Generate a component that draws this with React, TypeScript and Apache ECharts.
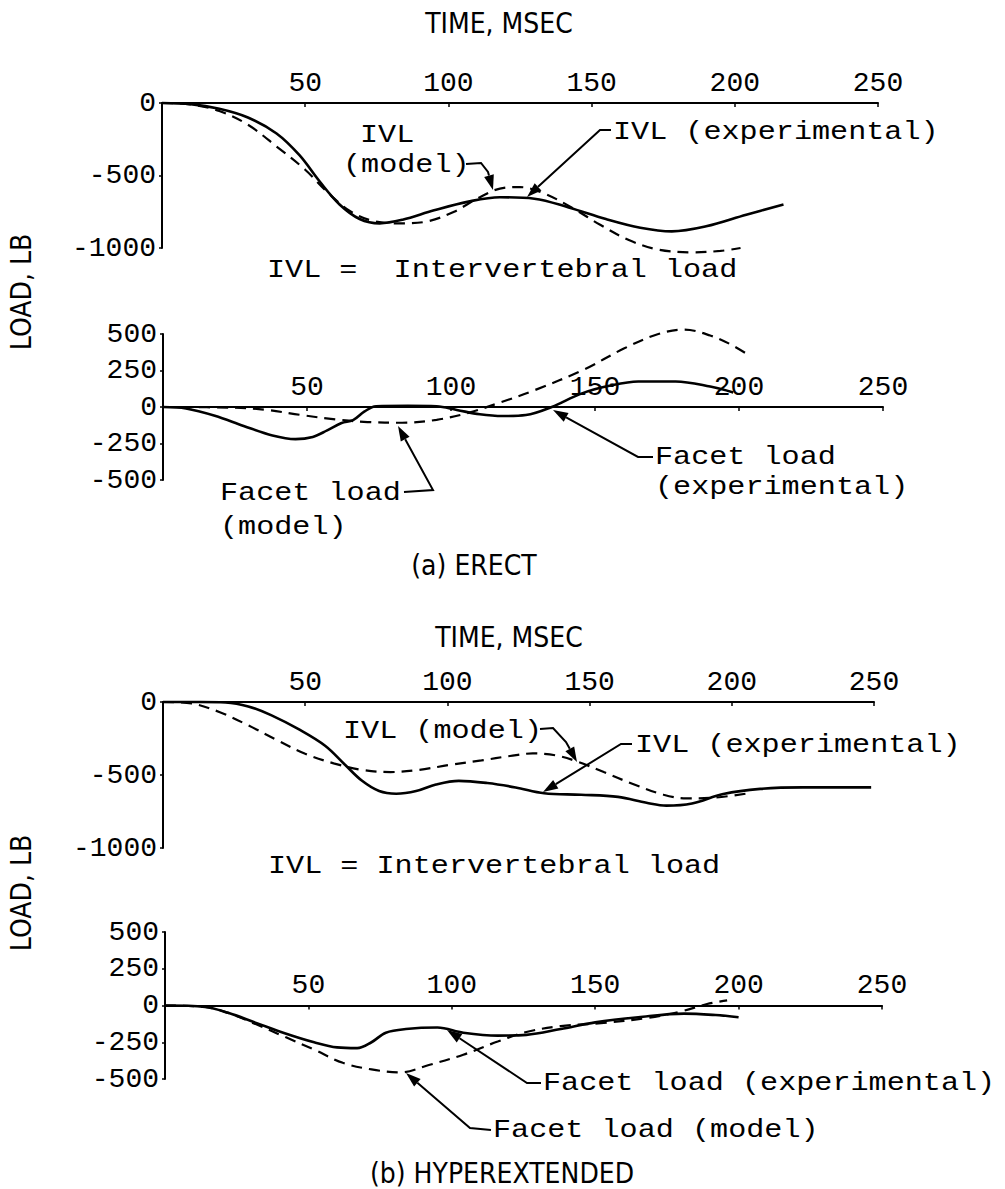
import React, { useEffect, useRef } from "react";
import * as echarts from "echarts";

// ---- DATA (time in msec, load in lb) ----
const timeTicks = [0, 50, 100, 150, 200, 250];

const erectIvlExperimental: number[][] = [[0,0],[10,-8],[20,-40],[30,-100],[40,-210],[48,-360],[55,-540],[62,-700],[69,-800],[76,-830],[84,-805],[95,-740],[107,-680],[118,-650],[130,-660],[142,-720],[155,-800],[167,-860],[178,-885],[190,-850],[204,-770],[217,-700]];
const erectIvlModel: number[][] = [[0,0],[10,-10],[20,-55],[30,-150],[40,-300],[50,-460],[58,-620],[66,-750],[74,-815],[84,-830],[93,-815],[102,-750],[110,-660],[118,-590],[125,-580],[133,-620],[143,-720],[153,-840],[163,-945],[173,-1010],[185,-1030],[195,-1020],[202,-1000]];

const erectFacetExperimental: number[][] = [[0,0],[8,-10],[18,-60],[28,-130],[38,-195],[46,-220],[52,-205],[57,-160],[62,-110],[66,-90],[70,-30],[74,5],[85,8],[95,5],[102,-20],[110,-50],[118,-62],[126,-55],[135,0],[145,90],[155,145],[165,175],[178,175],[190,140],[198,100]];
const erectFacetModel: number[][] = [[0,0],[25,-5],[36,-20],[48,-55],[60,-85],[71,-103],[83,-108],[95,-88],[106,-40],[117,30],[129,115],[146,255],[160,400],[172,500],[181,530],[190,490],[197,430],[203,360]];

const hyperIvlExperimental: number[][] = [[0,0],[13,0],[22,-3],[30,-30],[38,-90],[48,-190],[57,-300],[64,-430],[70,-540],[76,-610],[82,-628],[89,-610],[96,-565],[104,-540],[114,-555],[124,-585],[134,-625],[147,-635],[160,-650],[170,-690],[177,-710],[186,-695],[197,-630],[210,-595],[225,-585],[249,-585]];
const hyperIvlModel: number[][] = [[0,0],[10,-10],[20,-70],[30,-160],[40,-260],[50,-355],[60,-420],[70,-465],[80,-480],[90,-465],[101,-430],[112,-400],[122,-370],[130,-352],[138,-365],[146,-410],[155,-480],[165,-560],[176,-635],[184,-660],[194,-655],[206,-625]];

const hyperFacetExperimental: number[][] = [[0,0],[14,-10],[22,-50],[32,-120],[42,-190],[52,-250],[60,-285],[67,-290],[72,-250],[77,-185],[84,-160],[95,-150],[104,-185],[116,-205],[126,-200],[138,-160],[150,-115],[165,-80],[181,-55],[192,-65],[200,-80]];
const hyperFacetModel: number[][] = [[0,0],[14,-10],[22,-50],[32,-130],[42,-215],[52,-300],[62,-390],[72,-435],[82,-455],[92,-405],[104,-335],[116,-245],[126,-180],[138,-140],[152,-120],[168,-85],[180,-40],[189,10],[196,35]];

const ivlRange = [-1000, 0];
const facetRange = [-500, 500];

const MONO = "'Liberation Mono', 'Courier New', monospace";
const SANS = "'DejaVu Sans', sans-serif";

function arrowGraphic(pts: number[][]): any[] {
  const [x1, y1] = pts[pts.length - 2];
  const [x2, y2] = pts[pts.length - 1];
  const dx = x2 - x1, dy = y2 - y1;
  const L = Math.hypot(dx, dy);
  const ux = dx / L, uy = dy / L;
  const hl = 15, hw = 5;
  const bx = x2 - ux * hl, by = y2 - uy * hl;
  const head = [[x2, y2], [bx - uy * hw, by + ux * hw], [bx + uy * hw, by - ux * hw]];
  return [
    { type: "polyline", shape: { points: pts.slice(0, -1).concat([[bx, by]]) }, style: { stroke: "#000", lineWidth: 2, fill: "none" } },
    { type: "polygon", shape: { points: head }, style: { fill: "#000" } },
  ];
}

function monoText(text: string, x: number, y: number): any {
  return {
    type: "text", x, y, scaleX: 1.16,
    style: { text, fontSize: 26, fontFamily: MONO, fill: "#000", textAlign: "left", textVerticalAlign: "middle", align: "left", verticalAlign: "middle" },
  };
}

function titleText(text: string, x: number, y: number, rotation = 0): any {
  return {
    type: "text", x, y, rotation, scaleX: 0.9,
    style: { text, fontSize: 28, fontFamily: SANS, fill: "#000", textAlign: "center", textVerticalAlign: "middle", align: "center", verticalAlign: "middle" },
  };
}

export default function App() {
  const ref = useRef<HTMLDivElement>(null);
  useEffect(() => {
    if (!ref.current) return;
    const chart = echarts.init(ref.current, undefined, { renderer: "svg" });

    const grids = [
      { left: 162, top: 103, width: 716, height: 145 },
      { left: 163, top: 334, width: 720, height: 146 },
      { left: 163, top: 702, width: 711, height: 146 },
      { left: 165, top: 932, width: 717, height: 147 },
    ];
    const ranges = [ivlRange, facetRange, ivlRange, facetRange];
    const intervals = [500, 250, 500, 250];

    const xAxis = grids.map((g, i) => {
      const r = ranges[i];
      const zeroOffset = -(g.height * r[1]) / (r[1] - r[0]);
      return {
        gridIndex: i, type: "value", min: timeTicks[0], max: timeTicks[timeTicks.length - 1], interval: 50,
        position: "top", offset: zeroOffset,
        axisLine: { show: true, onZero: false, lineStyle: { color: "#000", width: 2 } },
        axisTick: { show: true, inside: true, length: 4, lineStyle: { color: "#000", width: 1.5 } },
        axisLabel: { show: true, showMinLabel: false, margin: 6, color: "#000", fontFamily: MONO, fontSize: 28 },
        splitLine: { show: false },
      };
    });
    const yAxis = grids.map((_, i) => ({
      gridIndex: i, type: "value", min: ranges[i][0], max: ranges[i][1], interval: intervals[i],
      axisLine: { show: true, onZero: false, lineStyle: { color: "#000", width: 2 } },
      axisTick: { show: true, inside: false, length: 3, lineStyle: { color: "#000", width: 1.5 } },
      axisLabel: { show: true, margin: 6, color: "#000", fontFamily: MONO, fontSize: 28, formatter: (v: number) => String(v) },
      splitLine: { show: false },
    }));

    const solid = (data: number[][], gi: number) => ({
      type: "line", xAxisIndex: gi, yAxisIndex: gi, data, showSymbol: false, symbol: "none",
      smooth: 0.35, clip: false, silent: true, z: 4,
      lineStyle: { color: "#000", width: 2.6 },
    });
    const dashed = (data: number[][], gi: number) => ({
      type: "line", xAxisIndex: gi, yAxisIndex: gi, data, showSymbol: false, symbol: "none",
      smooth: 0.35, clip: false, silent: true, z: 3,
      lineStyle: { color: "#000", width: 2.2, type: [11, 7] },
    });

    const graphic: any[] = [
      titleText("TIME, MSEC", 499, 23),
      titleText("LOAD, LB", 21, 292, Math.PI / 2),
      titleText("(a) ERECT", 474, 565),
      titleText("TIME, MSEC", 509, 637),
      titleText("LOAD, LB", 21, 893, Math.PI / 2),
      titleText("(b) HYPEREXTENDED", 502, 1173),
      // panel a IVL
      monoText("IVL", 360, 135),
      monoText("(model)", 343, 165),
      ...arrowGraphic([[466, 164], [481, 163], [488, 172], [493, 190]]),
      monoText("IVL (experimental)", 613, 132),
      ...arrowGraphic([[611, 130], [600, 130], [527, 197]]),
      monoText("IVL =  Intervertebral load", 267, 270),
      // panel a facet
      monoText("Facet load", 220, 493),
      monoText("(model)", 220, 527),
      ...arrowGraphic([[404, 492], [433, 490], [398, 426]]),
      monoText("Facet load", 655, 457),
      monoText("(experimental)", 655, 487),
      ...arrowGraphic([[653, 457], [638, 457], [553, 410]]),
      // panel b IVL
      monoText("IVL (model)", 343, 731),
      ...arrowGraphic([[540, 729], [553, 728], [566, 742], [577, 762]]),
      monoText("IVL (experimental)", 635, 745),
      ...arrowGraphic([[632, 744], [621, 744], [543, 792]]),
      monoText("IVL = Intervertebral load", 268, 866),
      // panel b facet
      monoText("Facet load (experimental)", 543, 1083),
      ...arrowGraphic([[541, 1083], [527, 1083], [447, 1030]]),
      monoText("Facet load (model)", 493, 1130),
      ...arrowGraphic([[491, 1130], [470, 1128], [406, 1073]]),
    ];

    chart.setOption({
      animation: false,
      backgroundColor: "#fff",
      grid: grids.map((g) => ({ ...g, containLabel: false })),
      xAxis, yAxis,
      series: [
        solid(erectIvlExperimental, 0), dashed(erectIvlModel, 0),
        solid(erectFacetExperimental, 1), dashed(erectFacetModel, 1),
        solid(hyperIvlExperimental, 2), dashed(hyperIvlModel, 2),
        solid(hyperFacetExperimental, 3), dashed(hyperFacetModel, 3),
      ],
      graphic,
    });
    return () => chart.dispose();
  }, []);
  return <div ref={ref} style={{ position: "absolute", left: 0, top: 0, width: 1005, height: 1189, background: "#fff" }} />;
}
